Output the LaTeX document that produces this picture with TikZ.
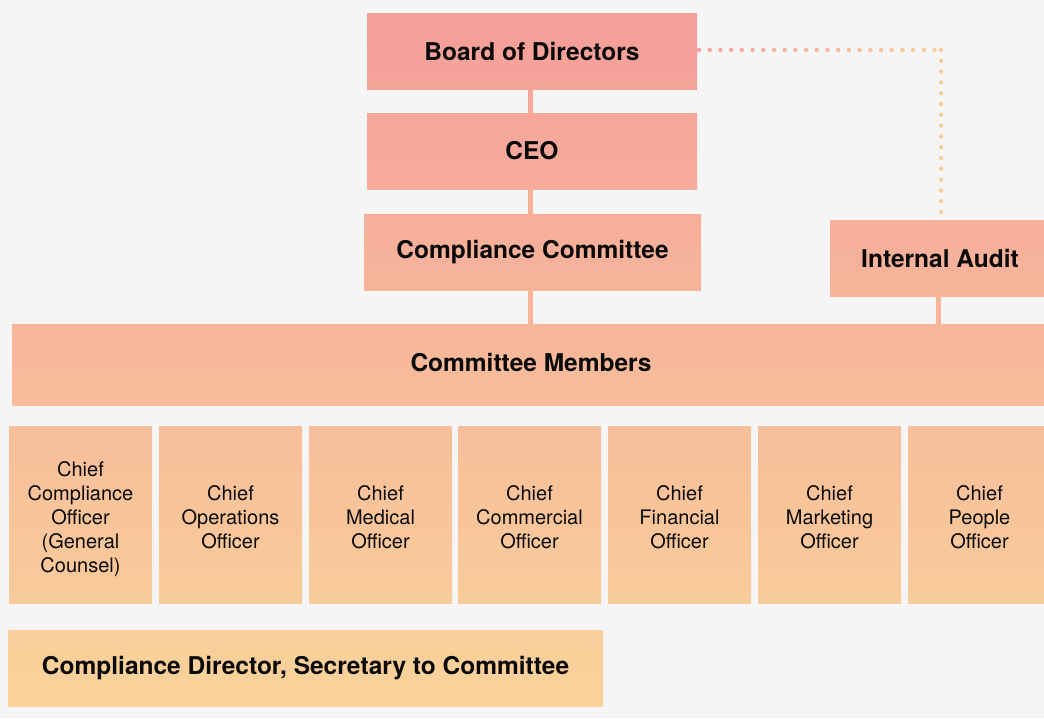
\documentclass[tikz,border=0pt]{standalone}
\usepackage{fontspec}
\setmainfont{TeX Gyre Heros}
\usetikzlibrary{calc}
\definecolor{bg}{RGB}{245,245,245}
\definecolor{gtop}{RGB}{245,158,154}
\definecolor{gbot}{RGB}{249,212,154}
\definecolor{dotA}{RGB}{245,163,158}
\definecolor{dotB}{RGB}{250,204,152}
\definecolor{txt}{RGB}{10,10,10}
\newcommand{\officertext}[1]{\raisebox{-10pt}[0pt][0pt]{\begin{tabular}{@{}c@{}}#1\end{tabular}}}
\tikzset{
  box/.style={inner sep=0pt, outer sep=0pt, align=center, text=txt},
  gb/.style 2 args={top color=gbot!#1!gtop, bottom color=gbot!#2!gtop, draw=none},
  big/.style={font=\bfseries\fontsize{24.5}{28}\selectfont},
  small/.style={font=\fontsize{20}{24}\selectfont},
  officer/.style={box,small,gb={59}{84},minimum width=143pt,minimum height=177pt},
  conn/.style={line width=5pt},
}
\begin{document}
\begin{tikzpicture}[x=1pt,y=-1pt]
\useasboundingbox (0,0) rectangle (1044,718);
\begin{scope}
\clip (0,0) rectangle (1044,718);
\fill[bg] (0,0) rectangle (1044,718);

\node[box,big,gb={2}{12},minimum width=330pt,minimum height=76pt] (board) at (532,51) {Board of Directors};
\node[box,big,gb={16}{26},minimum width=330pt,minimum height=76pt] (ceo) at (532,151) {CEO};
\node[box,big,gb={30}{40},minimum width=337pt,minimum height=76pt] (cc) at (532.5,252) {Compliance Committee};
\node[box,big,gb={31}{41},minimum width=220pt,minimum height=76pt] (ia) at (940,258) {Internal Audit};
\node[box,big,gb={45}{56},minimum width=1038pt,minimum height=81pt] (cm) at (531,364.5) {\raisebox{4pt}{Committee Members}};

\node[officer] (o1) at (80.5,514.5) {\officertext{Chief\\Compliance\\Officer\\(General\\Counsel)}};
\node[officer] (o2) at (230.5,514.5) {\officertext{Chief\\Operations\\Officer}};
\node[officer] (o3) at (380.5,514.5) {\officertext{Chief\\Medical\\Officer}};
\node[officer] (o4) at (529.5,514.5) {\officertext{Chief\\Commercial\\Officer}};
\node[officer] (o5) at (679.5,514.5) {\officertext{Chief\\Financial\\Officer}};
\node[officer] (o6) at (829.5,514.5) {\officertext{Chief\\Marketing\\Officer}};
\node[officer] (o7) at (979.5,514.5) {\officertext{Chief\\People\\Officer}};

\node[box,big,gb={88}{98},minimum width=595pt,minimum height=76pt] (dir) at (305.5,668) {Compliance Director, Secretary to Committee};

% solid connectors
\draw[conn,color=gbot!20!gtop] ([xshift=-2pt]board.south) -- ([xshift=-2pt]ceo.north);
\draw[conn,color=gbot!35!gtop] ([xshift=-2pt]ceo.south) -- ([xshift=-2.5pt]cc.north);
\draw[conn,color=gbot!45!gtop] ([xshift=-2.5pt]cc.south) -- ([xshift=-2.5pt]cc.south |- cm.north);
\draw[conn,color=gbot!45!gtop] ([xshift=-1.5pt]ia.south) -- ([xshift=-1.5pt]ia.south |- cm.north);

% dotted connector
\coordinate (dstart) at ($(board.east)+(2,-1)$);
\coordinate (corner) at (941,50);
\coordinate (dend) at ($(ia.north)+(1,-8)$);
\foreach \i in {0,...,22}{
  \pgfmathtruncatemacro{\p}{100*\i/22}
  \fill[color=dotB!\p!dotA] ($(dstart)!\i/22.6!(corner)$) circle (2.2pt);
}
\foreach \i in {0,...,15}{
  \fill[color=dotB] ($(corner)!\i/15!(dend)$) circle (2.2pt);
}
\end{scope}
\end{tikzpicture}
\end{document}
